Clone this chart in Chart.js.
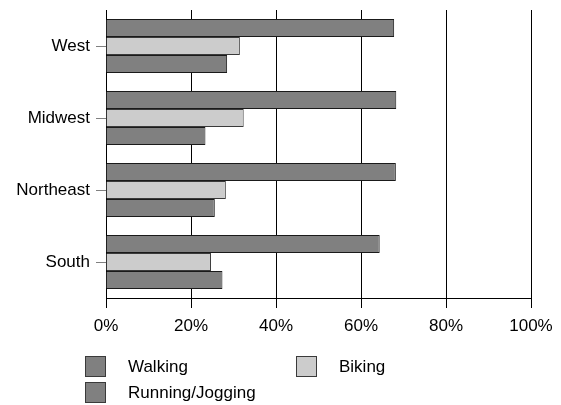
<!DOCTYPE html>
<html>
<head>
<meta charset="utf-8">
<script src="https://cdn.jsdelivr.net/npm/chart.js@4"></script>
<style>
  body { margin: 0; background: #fff; }
  #wrap { width: 561px; height: 405px; }
</style>
</head>
<body>
<div id="wrap"><canvas id="barChart" width="561" height="405"></canvas></div>
<script>
var regions = ["West", "Midwest", "Northeast", "South"];
var walking = [67.8, 68.3, 68.2, 64.4];
var biking = [31.5, 32.4, 28.2, 24.7];
var running = [28.5, 23.4, 25.6, 27.4];
var xTicks = [0, 20, 40, 60, 80, 100];

var FONT = "'Liberation Sans', Arial, sans-serif";

// legend drawn by hand: two items on the first row, one below
var legendPlugin = {
  id: 'bottomLegend',
  afterDraw: function(chart) {
    var ctx = chart.ctx;
    var spots = [[85, 356], [296, 356], [85, 382]];
    ctx.save();
    ctx.font = "17px " + FONT;
    ctx.textBaseline = 'middle';
    ctx.textAlign = 'left';
    for (var i = 0; i < chart.data.datasets.length; i++) {
      var ds = chart.data.datasets[i];
      var x = spots[i][0], y = spots[i][1];
      ctx.fillStyle = ds.backgroundColor;
      ctx.fillRect(x, y, 21, 21);
      ctx.strokeStyle = '#3a3a3a';
      ctx.lineWidth = 1;
      ctx.strokeRect(x + 0.5, y + 0.5, 20, 20);
      ctx.fillStyle = '#000';
      ctx.fillText(ds.label, x + 43, y + 11);
    }
    ctx.restore();
  }
};

var ctx = document.getElementById("barChart").getContext('2d');
var myBarChart = new Chart(ctx, {
  type: 'bar',
  data: {
    labels: regions,
    datasets: [
      { label: "Walking", data: walking, backgroundColor: '#808080', borderColor: '#1a1a1a', borderWidth: 1 },
      { label: "Biking", data: biking, backgroundColor: '#cccccc', borderColor: '#3a3a3a', borderWidth: 1 },
      { label: "Running/Jogging", data: running, backgroundColor: '#808080', borderColor: '#1a1a1a', borderWidth: 1 }
    ]
  },
  options: {
    indexAxis: 'y',
    responsive: false,
    animation: false,
    layout: { padding: { left: 0, right: 30, top: 10, bottom: 67 } },
    datasets: { bar: { categoryPercentage: 0.75, barPercentage: 1 } },
    plugins: { legend: { display: false }, tooltip: { enabled: false } },
    scales: {
      x: {
        min: 0,
        max: 100,
        afterBuildTicks: function(scale) {
          scale.ticks = xTicks.map(function(v){ return { value: v }; });
        },
        ticks: {
          color: '#000',
          padding: 8,
          maxRotation: 0,
          font: { family: FONT, size: 17 },
          callback: function(v) { return v + '%'; }
        },
        grid: { color: '#000', lineWidth: 1, tickLength: 10, drawOnChartArea: true },
        border: { color: '#000', width: 1 },
        afterFit: function(scale) {
          scale.height = 40;
          scale.paddingLeft = 0;
          scale.paddingRight = 0;
        }
      },
      y: {
        ticks: {
          color: '#000',
          padding: 6,
          font: { family: FONT, size: 17 }
        },
        grid: { color: '#808080', offset: false, drawOnChartArea: false, tickLength: 10 },
        border: { color: '#000', width: 1 },
        afterFit: function(scale) {
          scale.width = 106;
          scale.paddingTop = 0;
          scale.paddingBottom = 0;
        }
      }
    }
  },
  plugins: [legendPlugin]
});
</script>
</body>
</html>
